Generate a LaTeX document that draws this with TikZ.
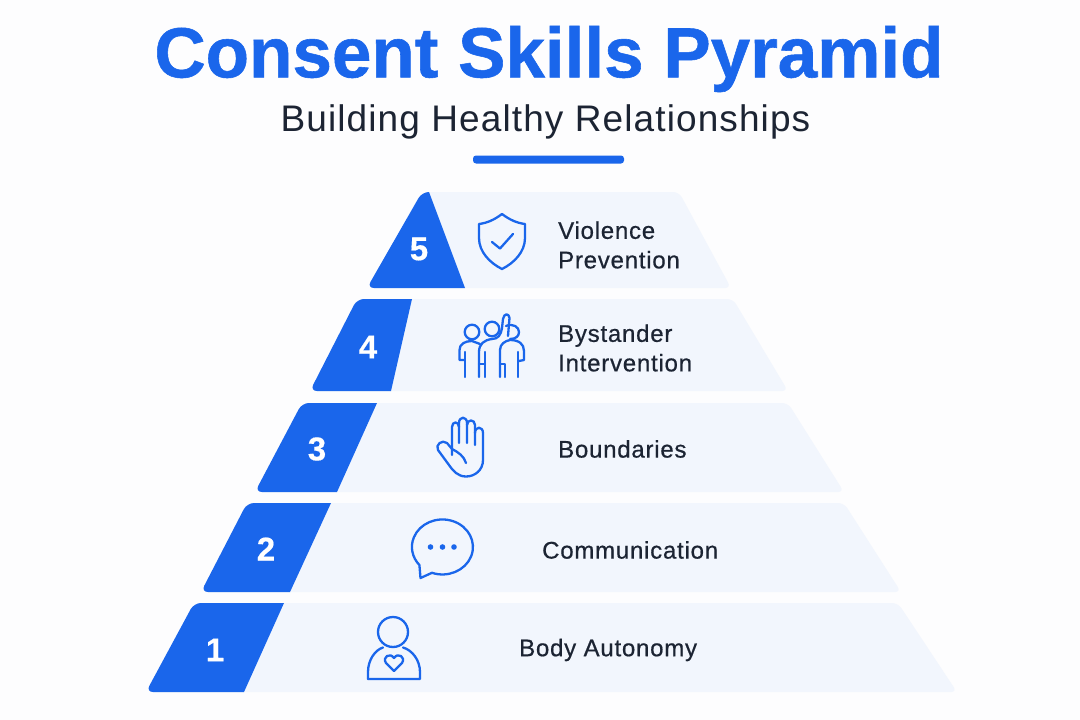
\documentclass[tikz,border=0pt]{standalone}
\usepackage{fontspec}
\setmainfont{Liberation Sans}
\newfontfamily\labelfont[FakeBold=0.6,LetterSpace=3.2]{Liberation Sans}
\newfontfamily\subfont[LetterSpace=3]{Liberation Sans}
\newfontfamily\titlefont[FakeBold=0.8]{Liberation Sans Bold}
\newfontfamily\numfont[FakeBold=0.4]{Liberation Sans Bold}
\definecolor{pgbg}{HTML}{FDFDFE}
\definecolor{tierblue}{HTML}{1A66EB}
\definecolor{tierlight}{HTML}{F2F6FD}
\definecolor{inkdark}{HTML}{1C2433}
\tikzset{
  tierfill/.style={fill=tierlight,rounded corners=6pt},
  bluefill/.style={fill=tierblue},
  numlabel/.style={text=white,font=\numfont\fontsize{33}{36}\selectfont,inner sep=0pt},
  tierlabel/.style={text=inkdark,font=\labelfont\fontsize{24}{29.5}\selectfont,inner sep=0pt,align=left},
  iconline/.style={draw=tierblue,line width=2.3pt,line cap=round,line join=round},
}
% ytop ybot TL BL blueTR blueBR lightTR lightBR
\newcommand{\tierband}[8]{%
  \fill[tierfill] (#3,#1) -- (#7+1,#1) -- (#8+2,#2) -- (#4,#2) -- cycle;
  \fill[bluefill] (#5,#1) [rounded corners=7pt] -- (#3-1,#1) -- (#4-2,#2) [sharp corners] -- (#6,#2) -- cycle;
}
\begin{document}
\begin{tikzpicture}[x=1pt,y=-1pt]
\useasboundingbox (0,0) rectangle (1080,720);
\fill[pgbg] (0,0) rectangle (1080,720);

\node[text=tierblue,font=\titlefont\fontsize{71}{80}\selectfont,inner sep=0pt] (title) at (549,59) {Consent Skills Pyramid};
\node[text=inkdark,font=\subfont\fontsize{37}{40}\selectfont,inner sep=0pt] (subtitle) at (545.5,122) {Building Healthy Relationships};
\fill[tierblue,rounded corners=3pt] (473,155.5) rectangle (624,163.5);

\tierband{192}{288}{423}{369}{429}{465}{678}{729}
\tierband{299}{391}{358}{312}{412}{391}{732}{786}
\tierband{403}{492}{303}{257}{377}{337}{787}{842}
\tierband{503}{592}{248}{203}{331}{290}{843}{899}
\tierband{603}{692}{195}{148}{284}{244}{897}{955}

\node[numlabel] (n5) at (419,249) {5};
\node[numlabel] (n4) at (368,347) {4};
\node[numlabel] (n3) at (317,449) {3};
\node[numlabel] (n2) at (266,549) {2};
\node[numlabel] (n1) at (215,650) {1};

\node[tierlabel,anchor=west] (l5) at (558,245) {Violence\\Prevention};
\node[tierlabel,anchor=west] (l4) at (558,348) {Bystander\\Intervention};
\node[tierlabel,anchor=west] (l3) at (558,449) {Boundaries};
\node[tierlabel,anchor=west] (l2) at (542,550) {Communication};
\node[tierlabel,anchor=west] (l1) at (519,650) {Body Autonomy};

% shield
\draw[iconline] (502,214) .. controls (510,220) and (517,223) .. (525,224)
  -- (525,238) .. controls (525,252) and (514,263) .. (502,269)
  .. controls (490,263) and (479,252) .. (479,238) -- (479,224)
  .. controls (487,223) and (494,220) .. (502,214) -- cycle;
\draw[iconline] (492,242) -- (500,248.5) -- (513,234);

% people
\draw[iconline] (472,332) circle (7.3);
\draw[iconline] (492,329) circle (7.3);
\draw[iconline] (506,326) .. controls (513,323) and (519,327) .. (519,332) .. controls (519,336) and (516,339) .. (510,339);
\draw[iconline] (464.5,360) -- (459.5,360) -- (459.5,350) .. controls (459.5,344) and (465,341) .. (472,341) -- (480,344);
\draw[iconline] (465,352) -- (465,377);
\draw[iconline] (479,377) -- (479,352) .. controls (479,344) and (484,340) .. (492,339) .. controls (498,339) and (501,335) .. (502,328) -- (503,319) .. controls (504,313) and (509,313) .. (509.5,318) -- (508,336);
\draw[iconline] (485,377) -- (485,352);
\draw[iconline] (479,364) -- (485,364);
\draw[iconline] (500,377) -- (500,350) .. controls (500,344) and (505,341) .. (510,340) .. controls (519,340) and (524,344) .. (524,351) -- (524,360) -- (519,361);
\draw[iconline] (505,377) -- (505,364) -- (500,364);
\draw[iconline] (518,377) -- (518,352);

% hand
\draw[iconline] (452,455) -- (452,427) .. controls (452,421) and (459,421) .. (459,427) -- (459,443);
\draw[iconline] (459,427) -- (459,423) .. controls (459,416) and (467,416) .. (467,423) -- (467,443);
\draw[iconline] (467,425) .. controls (467,419) and (475,419) .. (475,425) -- (475,445);
\draw[iconline] (475,433) .. controls (475,426) and (483,426) .. (483,433) -- (483,460)
  .. controls (483,470) and (475,476.5) .. (466,476.5)
  .. controls (458,476.5) and (453,471) .. (449,465)
  -- (438,450) .. controls (435,445) and (442,439) .. (447,443) -- (452,449)
  .. controls (458,452) and (464,456) .. (466,463);

% speech bubble
\draw[iconline] (432,572.8) arc[start angle=110,end angle=-221,x radius=30.5,y radius=27.5] -- (420.5,578) -- cycle;
\foreach \dx in {430.5,442.5,454}{\fill[tierblue] (\dx,547) circle (2.8);}

% person
\draw[iconline] (393,632) circle (15);
\draw[iconline] (368,679) -- (420,679) -- (420,672)
  .. controls (420,660) and (412,650) .. (403,647.5);
\draw[iconline] (368,679) -- (368,672) .. controls (368,660) and (375,650) .. (383,647.5);
\draw[iconline] (394,671) -- (386,663) .. controls (382,657) and (390,652) .. (394,658)
  .. controls (398,652) and (406,657) .. (402,663) -- cycle;
\end{tikzpicture}
\end{document}
